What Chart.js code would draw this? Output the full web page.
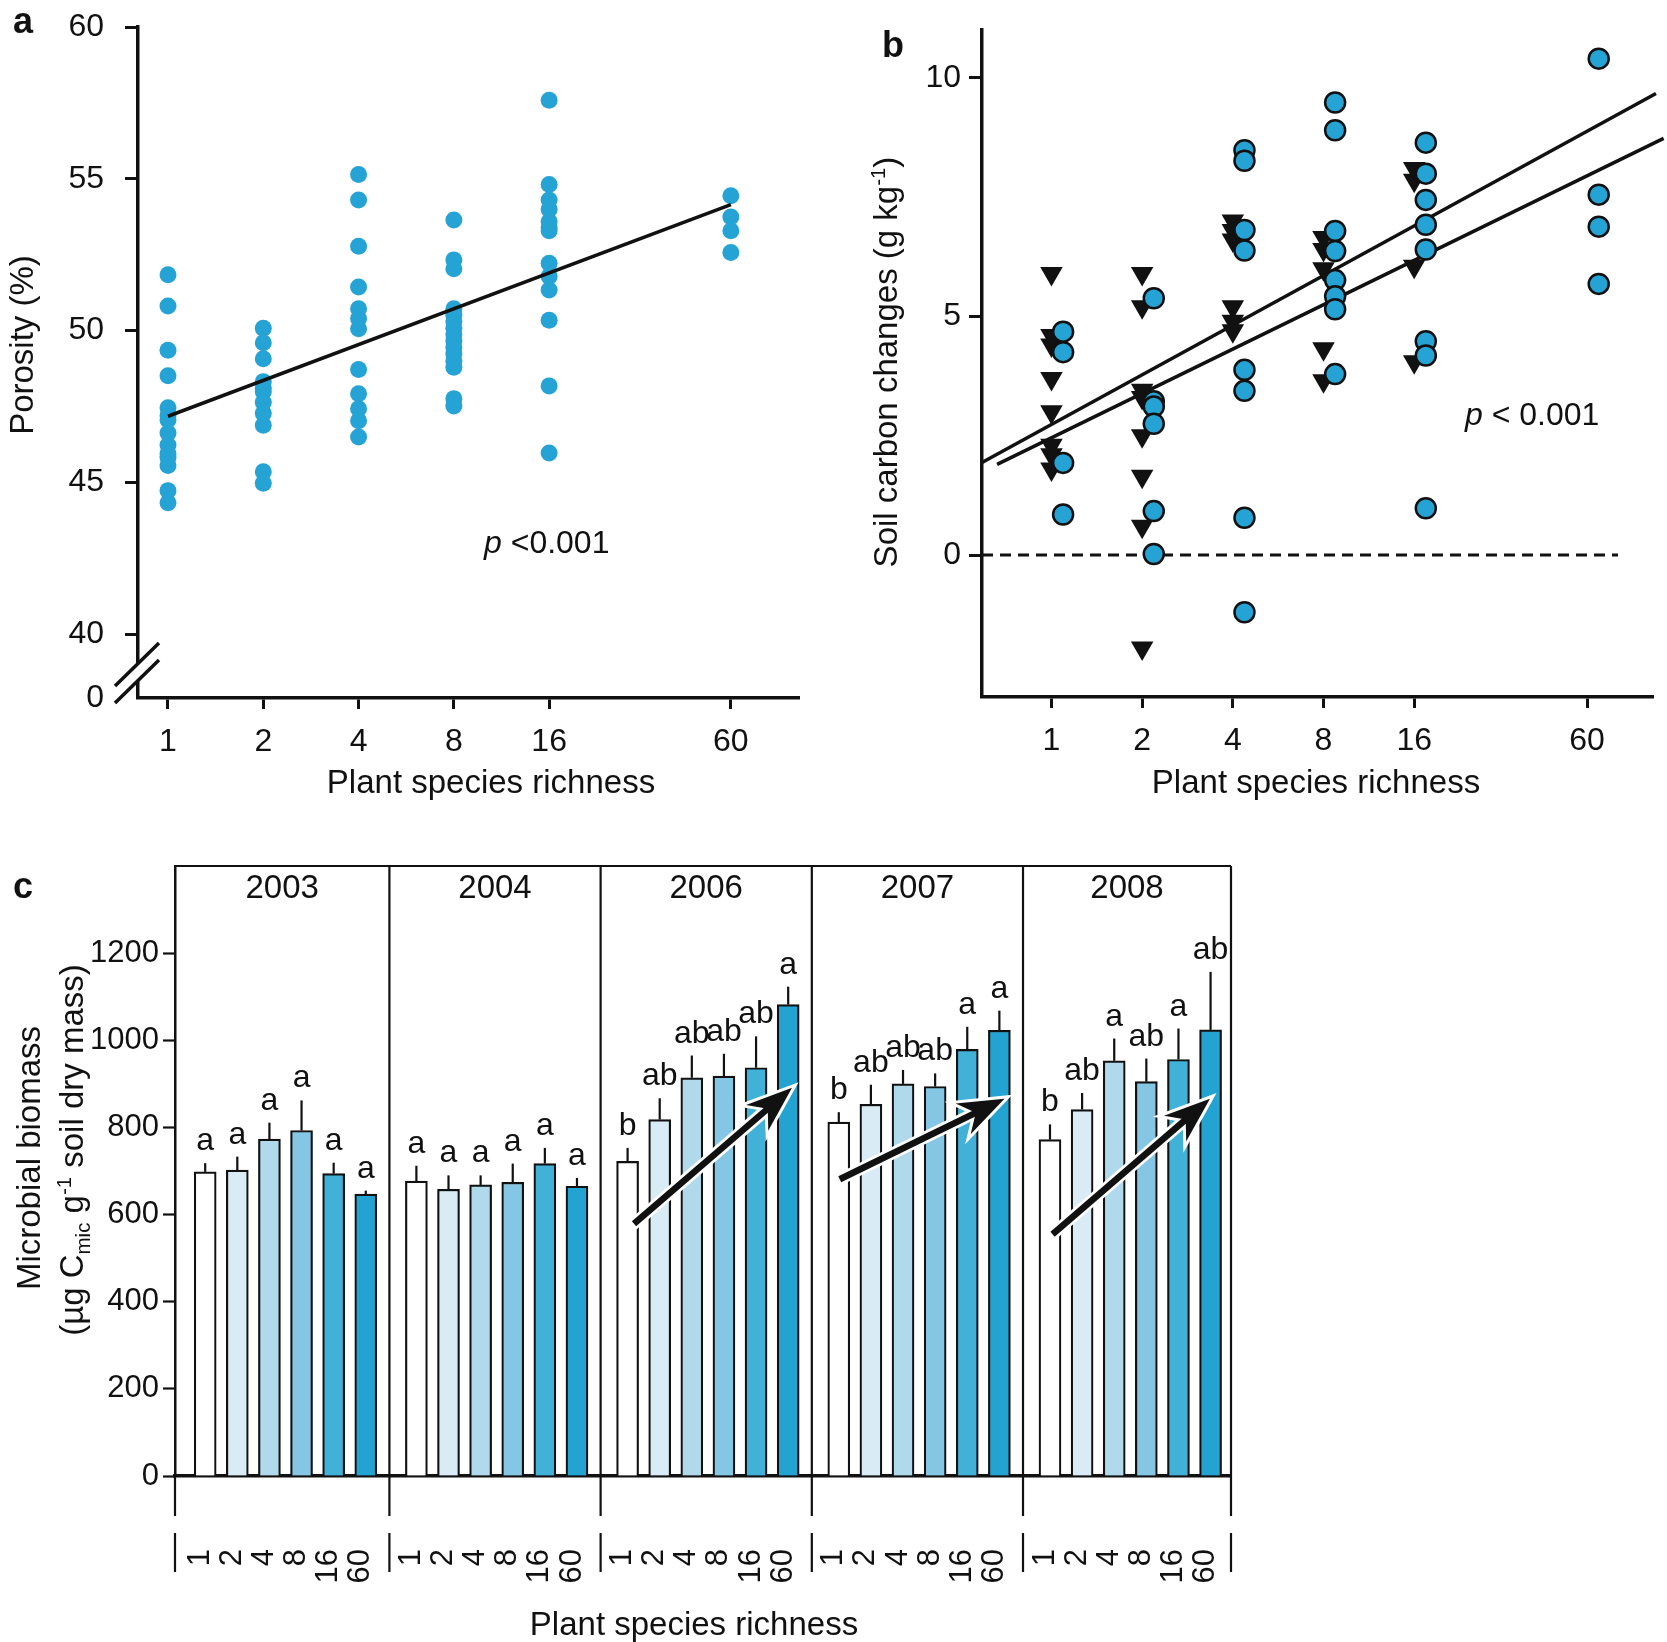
<!DOCTYPE html>
<html>
<head>
<meta charset="utf-8">
<title>Plant species richness effects on soil</title>
<script src="https://cdn.jsdelivr.net/npm/chart.js@4.4.0/dist/chart.umd.min.js"></script>
<style>
  body { margin: 0; background: #fff; }
  #page { position: relative; width: 1667px; height: 1642px; overflow: hidden;
          font-family: 'Liberation Sans', Arial, Helvetica, sans-serif; color: #111; }
  canvas { position: absolute; }
  .txt { position: absolute; white-space: nowrap; line-height: 1; font-size: 33px;
         transform: translate(-50%, -50%); }
  .vert { transform: translate(-50%, -50%) rotate(-90deg); }
  .panel { font-weight: bold; font-size: 36px; }
  .pval { font-size: 32px; transform: translate(0, -50%); }
  sup, sub { font-size: 0.62em; line-height: 0; }
</style>
</head>
<body>
<div id="page">
  <canvas id="porosity" width="820" height="800" style="left:0;top:0"></canvas>
  <canvas id="carbon" width="827" height="800" style="left:840px;top:0"></canvas>
  <canvas id="biomass" width="1260" height="812" style="left:0;top:830px"></canvas>

  <div class="txt panel" style="left:23px;top:21px">a</div>
  <div class="txt panel" style="left:893px;top:45px">b</div>
  <div class="txt panel" style="left:23px;top:886px">c</div>

  <div class="txt vert" style="left:21px;top:345px">Porosity (%)</div>
  <div class="txt" style="left:491px;top:781px">Plant species richness</div>
  <div class="txt pval" style="left:484px;top:542px"><i>p</i> &lt;0.001</div>

  <div class="txt vert" style="left:885px;top:362px">Soil carbon changes (g kg<sup>-1</sup>)</div>
  <div class="txt" style="left:1316px;top:781px">Plant species richness</div>
  <div class="txt pval" style="left:1465px;top:414px"><i>p</i> &lt; 0.001</div>

  <div class="txt vert" style="left:28px;top:1158px">Microbial biomass</div>
  <div class="txt vert" style="left:71px;top:1150px">(µg C<sub>mic</sub> g<sup>-1</sup> soil dry mass)</div>
  <div class="txt" style="left:694px;top:1623px">Plant species richness</div>
</div>

<script>
// ---- panel a: porosity (%) per plot, by sown species richness
const richness = [1, 2, 4, 8, 16, 60];
const porosityR1 = [51.84, 50.81, 49.35, 48.51, 47.46, 47.2, 47.06, 46.63, 46.23, 45.95, 45.83, 45.56, 44.73, 44.33];
const porosityR2 = [50.08, 49.6, 49.07, 48.32, 48.1, 47.99, 47.64, 47.28, 46.88, 45.35, 44.97];
const porosityR4 = [55.14, 54.3, 52.78, 51.44, 50.72, 50.4, 50.06, 48.72, 47.92, 47.43, 47.03, 46.5];
const porosityR8 = [53.64, 52.33, 52.04, 50.72, 50.51, 50.3, 50.08, 49.87, 49.66, 49.44, 49.23, 48.99, 48.79, 47.76, 47.52];
const porosityR16 = [57.59, 54.81, 54.3, 54.0, 53.59, 53.4, 53.29, 52.22, 51.79, 51.34, 50.34, 48.18, 45.97];
const porosityR60 = [54.44, 53.74, 53.29, 52.57];
const porosityFitX = [1, 60];
const porosityFitY = [47.18, 54.15];
const porosityTicks = [40, 45, 50, 55, 60];
const porosityBreakValue = 37.9;   // bottom of axis, labelled "0"

// ---- panel b: soil carbon changes (g/kg)
const carbonCircR1 = [4.68, 4.25, 1.93, 0.85];
const carbonCircR2 = [5.38, 3.22, 3.11, 2.75, 0.92, 0.02];
const carbonCircR4 = [8.48, 8.26, 6.81, 6.38, 3.88, 3.44, 0.78, -1.2];
const carbonCircR8 = [9.48, 8.9, 6.79, 6.37, 5.76, 5.42, 5.15, 3.79];
const carbonCircR16 = [8.64, 7.99, 7.44, 6.92, 6.4, 4.48, 4.18, 0.98];
const carbonCircR60 = [10.4, 7.55, 6.88, 5.68];
const carbonTriR1 = [5.9, 4.6, 4.4, 3.7, 3.0, 2.3, 2.1, 1.8];
const carbonTriR2 = [5.9, 5.2, 3.45, 3.3, 2.5, 1.65, 0.6, -1.95];
const carbonTriR4 = [7.0, 6.8, 6.6, 5.2, 4.9, 4.7];
const carbonTriR8 = [6.65, 6.4, 6.0, 4.32, 3.65];
const carbonTriR16 = [8.1, 7.85, 6.05, 4.05];
const carbonTriR60 = [];
const carbonFitUpperX = [0.588, 101.6];
const carbonFitUpperY = [1.94, 9.67];
const carbonFitLowerX = [0.66, 107.7];
const carbonFitLowerY = [1.90, 8.73];
const carbonZeroX = [0.588, 76];
const carbonTicks = [0, 5, 10];

// ---- panel c: microbial biomass (mean, SE, letters) per year
const years = ['2003', '2004', '2006', '2007', '2008'];
const richnessLabels = ['1', '2', '4', '8', '16', '60'];
const biomass2003 = [698, 702, 773, 793, 694, 647];
const se2003 = [20, 31, 38, 69, 25, 8];
const letters2003 = ['a', 'a', 'a', 'a', 'a', 'a'];
const biomass2004 = [677, 658, 668, 674, 717, 665];
const se2004 = [35, 32, 22, 43, 36, 19];
const letters2004 = ['a', 'a', 'a', 'a', 'a', 'a'];
const biomass2006 = [722, 818, 914, 918, 937, 1082];
const se2006 = [31, 49, 51, 51, 72, 41];
const letters2006 = ['b', 'ab', 'ab', 'ab', 'ab', 'a'];
const biomass2007 = [812, 853, 900, 894, 979, 1023];
const se2007 = [23, 45, 32, 30, 52, 45];
const letters2007 = ['b', 'ab', 'ab', 'ab', 'a', 'a'];
const biomass2008 = [772, 841, 953, 905, 956, 1024];
const se2008 = [35, 38, 51, 53, 71, 133];
const letters2008 = ['b', 'ab', 'a', 'ab', 'a', 'ab'];
const biomassTicks = [0, 200, 400, 600, 800, 1000, 1200];
// trend arrows (year index, from/to bar slot, from/to biomass value)
const arrowYear = [2, 3, 4];
const arrowFromSlot = [0.2, 0.03, 0.08];
const arrowToSlot = [5.12, 5.16, 4.98];
const arrowFromValue = [579, 681, 555];
const arrowToValue = [891, 866, 866];

const INK = '#111';
const DOT = '#26a3d5';
const barColors = ['#ffffff', '#d9ebf4', '#b1d9ec', '#84c6e3', '#41b1d8', '#22a3d1'];
const FONT = "'Liberation Sans', Arial, Helvetica, sans-serif";

Chart.defaults.font.family = FONT;
Chart.defaults.color = INK;
Chart.defaults.animation = false;
Chart.defaults.plugins.legend.display = false;
Chart.defaults.plugins.tooltip.enabled = false;

function points(lists, shift = 1) {
  return richness.flatMap((r, i) => lists[i].map(v => ({ x: r * shift, y: v })));
}
function pairs(xs, ys) {
  return xs.map((x, i) => ({ x, y: ys[i] }));
}
function tickList(values) {
  return scale => { scale.ticks = values.map(v => ({ value: v })); };
}
// fixed axis size, and no extra label overhang padding pushed into the layout
function fixX(h) {
  return s => { s.height = h; s.paddingLeft = 0; s.paddingRight = 0; };
}
function fixY(w) {
  return s => { s.width = w; s.paddingTop = 0; s.paddingBottom = 0; };
}
const hidden = 'rgba(0,0,0,0)';

// axis break on the porosity y axis
const axisBreak = {
  id: 'axisBreak',
  afterDraw(chart) {
    const { ctx, chartArea: { left, bottom } } = chart;
    ctx.save();
    ctx.fillStyle = '#fff';
    ctx.fillRect(left - 3, bottom - 34, 6, 16);
    ctx.strokeStyle = INK;
    ctx.lineWidth = 3.5;
    ctx.beginPath();
    ctx.moveTo(left - 23, bottom - 12); ctx.lineTo(left + 21, bottom - 55);
    ctx.moveTo(left - 23, bottom + 5); ctx.lineTo(left + 21, bottom - 38);
    ctx.stroke();
    ctx.restore();
  }
};

new Chart(document.getElementById('porosity'), {
  type: 'scatter',
  data: {
    datasets: [
      { type: 'line', data: pairs(porosityFitX, porosityFitY), borderColor: INK, borderWidth: 3.5, pointRadius: 0 },
      { data: points([porosityR1, porosityR2, porosityR4, porosityR8, porosityR16, porosityR60]),
        pointRadius: 8.5, backgroundColor: DOT, borderWidth: 0 }
    ]
  },
  options: {
    responsive: false,
    devicePixelRatio: 1,
    layout: { padding: { left: 0, top: 27, right: 21, bottom: 0 } },
    scales: {
      x: {
        type: 'logarithmic', min: 0.804, max: 98.5,
        afterBuildTicks: tickList(richness),
        afterFit: fixX(102),
        ticks: { callback: v => String(v), font: { size: 32 }, padding: 14, autoSkip: false, maxRotation: 0 },
        grid: { drawOnChartArea: false, tickLength: 11, tickWidth: 3, color: INK },
        border: { width: 3.5, color: INK }
      },
      y: {
        min: porosityBreakValue, max: 60,
        afterBuildTicks: tickList([porosityBreakValue, ...porosityTicks]),
        afterFit: fixY(138),
        ticks: { callback: v => (v < 39 ? '0' : String(v)), font: { size: 32 }, padding: 21 },
        grid: { drawOnChartArea: false, tickLength: 13, tickWidth: 3,
                tickColor: c => (c.tick && c.tick.value < 39 ? hidden : INK) },
        border: { width: 3.5, color: INK }
      }
    }
  },
  plugins: [axisBreak]
});

const circleShift = 1.093;  // circles sit just right of each richness tick
new Chart(document.getElementById('carbon'), {
  type: 'scatter',
  data: {
    datasets: [
      { data: points([carbonCircR1, carbonCircR2, carbonCircR4, carbonCircR8, carbonCircR16, carbonCircR60], circleShift),
        pointRadius: 10, backgroundColor: DOT, borderColor: INK, borderWidth: 2.5 },
      { data: points([carbonTriR1, carbonTriR2, carbonTriR4, carbonTriR8, carbonTriR16, carbonTriR60]),
        pointStyle: 'triangle', rotation: 180, pointRadius: 13, backgroundColor: INK, borderWidth: 0 },
      { type: 'line', data: pairs(carbonFitUpperX, carbonFitUpperY), borderColor: INK, borderWidth: 3.5, pointRadius: 0, clip: false },
      { type: 'line', data: pairs(carbonFitLowerX, carbonFitLowerY), borderColor: INK, borderWidth: 3.5, pointRadius: 0, clip: false },
      { type: 'line', data: pairs(carbonZeroX, [0, 0]), borderColor: INK, borderWidth: 3, borderDash: [11, 7], pointRadius: 0 }
    ]
  },
  options: {
    responsive: false,
    devicePixelRatio: 1,
    layout: { padding: { left: 0, top: 30, right: 14, bottom: 0 } },
    scales: {
      x: {
        type: 'logarithmic', min: 0.588, max: 99.3,
        afterBuildTicks: tickList(richness),
        afterFit: fixX(103),
        ticks: { callback: v => String(v), font: { size: 32 }, padding: 14, autoSkip: false, maxRotation: 0 },
        grid: { drawOnChartArea: false, tickLength: 11, tickWidth: 3, color: INK },
        border: { width: 3.5, color: INK }
      },
      y: {
        min: -2.975, max: 11.0,
        afterBuildTicks: tickList(carbonTicks),
        afterFit: fixY(142),
        ticks: { callback: v => String(v), font: { size: 32 }, padding: 8 },
        grid: { drawOnChartArea: false, tickLength: 13, tickWidth: 3, color: INK },
        border: { width: 3.5, color: INK }
      }
    }
  }
});

// ---- panel c
const groupWidth = 6.576;
const firstSlot = 0.94;
const biomassMeans = [biomass2003, biomass2004, biomass2006, biomass2007, biomass2008];
const biomassSE = [se2003, se2004, se2006, se2007, se2008];
const biomassLetters = [letters2003, letters2004, letters2006, letters2007, letters2008];
const slotX = (g, j) => g * groupWidth + firstSlot + j;
const xMax = years.length * groupWidth;
const boundary = g => (g === 0 || g === years.length ? g * groupWidth : g * groupWidth + 0.1);

const bars = [];
biomassMeans.forEach((means, g) => means.forEach((v, j) => bars.push({ x: slotX(g, j), y: v, g, j })));

function drawArrow(ctx, x0, y0, x1, y1) {
  const len = Math.hypot(x1 - x0, y1 - y0);
  const ux = (x1 - x0) / len, uy = (y1 - y0) / len, nx = -uy, ny = ux;
  const L = 46, W = 17, notch = 14;
  const bx = x1 - ux * L, by = y1 - uy * L;
  const nxp = x1 - ux * (L - notch), nyp = y1 - uy * (L - notch);
  const head = () => {
    ctx.beginPath();
    ctx.moveTo(x1, y1);
    ctx.lineTo(bx + nx * W, by + ny * W);
    ctx.lineTo(nxp, nyp);
    ctx.lineTo(bx - nx * W, by - ny * W);
    ctx.closePath();
  };
  ctx.lineCap = 'butt';
  ctx.lineJoin = 'miter';
  ctx.strokeStyle = '#fff';
  ctx.lineWidth = 12;
  ctx.beginPath(); ctx.moveTo(x0 - ux * 2, y0 - uy * 2); ctx.lineTo(nxp, nyp); ctx.stroke();
  head(); ctx.lineWidth = 6; ctx.stroke();
  ctx.strokeStyle = INK;
  ctx.lineWidth = 6.5;
  ctx.beginPath(); ctx.moveTo(x0, y0); ctx.lineTo(nxp + ux * 2, nyp + uy * 2); ctx.stroke();
  head(); ctx.fillStyle = INK; ctx.fill();
}

const biomassDecor = {
  id: 'biomassDecor',
  afterDraw(chart) {
    const { ctx, chartArea: { left, right, top, bottom }, scales: { x, y } } = chart;
    ctx.save();
    ctx.strokeStyle = INK;
    ctx.lineWidth = 2.2;
    ctx.beginPath();
    ctx.moveTo(left, top); ctx.lineTo(right, top);
    for (let g = 0; g <= years.length; g++) {
      const px = x.getPixelForValue(boundary(g));
      ctx.moveTo(px, g === 0 ? bottom : top); ctx.lineTo(px, bottom + 40);
      ctx.moveTo(px, bottom + 57); ctx.lineTo(px, bottom + 96);
    }
    ctx.stroke();

    ctx.font = `33px ${FONT}`;
    ctx.fillStyle = INK;
    ctx.textAlign = 'center';
    ctx.textBaseline = 'middle';
    years.forEach((yr, g) => {
      const mid = (x.getPixelForValue(boundary(g)) + x.getPixelForValue(boundary(g + 1))) / 2;
      ctx.fillText(yr, mid, top + 23);
    });

    ctx.font = `32px ${FONT}`;
    ctx.textBaseline = 'alphabetic';
    ctx.lineWidth = 2.2;
    bars.forEach(b => {
      const px = x.getPixelForValue(b.x);
      const topPx = y.getPixelForValue(b.y + biomassSE[b.g][b.j]);
      ctx.beginPath();
      ctx.moveTo(px, y.getPixelForValue(b.y)); ctx.lineTo(px, topPx);
      ctx.stroke();
      ctx.fillText(biomassLetters[b.g][b.j], px, topPx - 13);
    });

    arrowYear.forEach((g, i) => {
      drawArrow(ctx,
        x.getPixelForValue(slotX(g, arrowFromSlot[i])), y.getPixelForValue(arrowFromValue[i]),
        x.getPixelForValue(slotX(g, arrowToSlot[i])), y.getPixelForValue(arrowToValue[i]));
    });
    ctx.restore();
  }
};

new Chart(document.getElementById('biomass'), {
  type: 'bar',
  data: {
    datasets: [{
      data: bars.map(b => ({ x: b.x, y: b.y })),
      backgroundColor: bars.map(b => barColors[b.j]),
      borderColor: INK,
      borderWidth: 2.2,
      barThickness: 22
    }]
  },
  options: {
    responsive: false,
    devicePixelRatio: 1,
    layout: { padding: { left: 0, top: 36, right: 29, bottom: 0 } },
    scales: {
      x: {
        type: 'linear', min: 0, max: xMax, offset: false,
        afterBuildTicks: tickList(bars.map(b => b.x)),
        afterFit: fixX(166),
        ticks: { callback: (v, i) => richnessLabels[i % 6], font: { size: 31 }, padding: 73,
                 labelOffset: -5, autoSkip: false, minRotation: 90, maxRotation: 90 },
        grid: { display: false, drawTicks: false, offset: false },
        border: { width: 3.5, color: INK }
      },
      y: {
        min: 0, max: 1400,
        afterBuildTicks: tickList(biomassTicks),
        afterFit: fixY(175),
        ticks: { callback: v => String(v), font: { size: 31 }, padding: 4 },
        grid: { drawOnChartArea: false, tickLength: 12, tickWidth: 2.2, color: INK },
        border: { width: 2.5, color: INK }
      }
    }
  },
  plugins: [biomassDecor]
});
</script>
</body>
</html>
